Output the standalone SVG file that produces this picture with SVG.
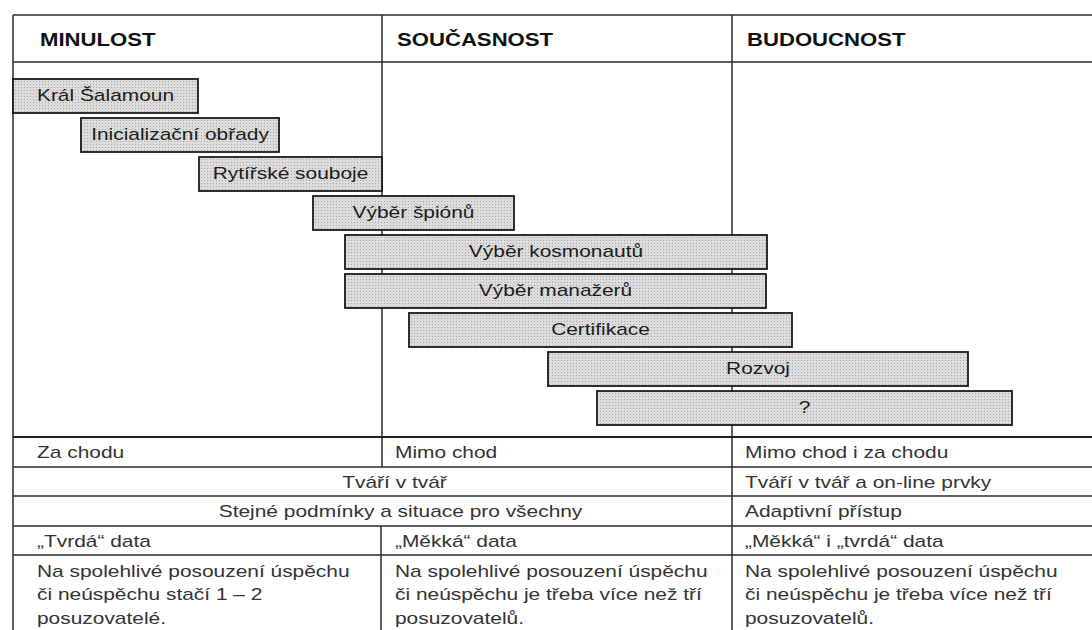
<svg xmlns="http://www.w3.org/2000/svg" width="1092" height="630" viewBox="0 0 1092 630">
  <defs>
    <pattern id="dots" width="3" height="3" patternUnits="userSpaceOnUse">
      <rect width="3" height="3" fill="#dcdcdc"/>
      <rect width="1" height="1" fill="#a8a8a8"/>
    </pattern>
    <style>
      .grid { stroke: #2a2a2a; stroke-width: 1.5; fill: none; }
      .thick { stroke: #1e1e1e; stroke-width: 2.2; fill: none; }
      .box { fill: url(#dots); stroke: #1a1a1a; stroke-width: 1.8; }
      .hdr { font-family: "Liberation Sans", Arial, sans-serif; font-weight: bold; font-size: 18px; fill: #111; }
      .bt { font-family: "Liberation Sans", Arial, sans-serif; font-size: 17px; fill: #1c1c1c; text-anchor: middle; }
      .ct { font-family: "Liberation Sans", Arial, sans-serif; font-size: 17px; fill: #333; }
      .cm { font-family: "Liberation Sans", Arial, sans-serif; font-size: 17px; fill: #333; text-anchor: middle; }
    </style>
  </defs>
  <rect width="1092" height="630" fill="#ffffff"/>

  <!-- table grid -->
  <g id="connectors">
    <line class="grid" x1="13" y1="15" x2="1092" y2="15"/>
    <line class="grid" x1="13" y1="62" x2="1092" y2="62"/>
    <line class="grid" x1="13" y1="15" x2="13" y2="630"/>
    <line class="grid" x1="382" y1="15" x2="382" y2="437"/>
    <line class="grid" x1="382" y1="437" x2="382" y2="467"/>
    <line class="grid" x1="381" y1="526" x2="381" y2="630"/>
    <line class="grid" x1="732" y1="15" x2="732" y2="630"/>
    <line class="thick" x1="13" y1="437" x2="1092" y2="437"/>
    <line class="grid" x1="13" y1="467" x2="1092" y2="467"/>
    <line class="grid" x1="13" y1="496" x2="1092" y2="496"/>
    <line class="grid" x1="13" y1="526" x2="1092" y2="526"/>
    <line class="grid" x1="13" y1="555" x2="1092" y2="555"/>
  </g>

  <!-- headers -->
  <g id="headers">
    <text class="hdr" transform="translate(40 46) scale(1.23 1)">MINULOST</text>
    <text class="hdr" transform="translate(397 46) scale(1.23 1)">SOUČASNOST</text>
    <text class="hdr" transform="translate(747 46) scale(1.23 1)">BUDOUCNOST</text>
  </g>

  <!-- timeline bars -->
  <g id="n1"><rect class="box" x="13" y="79" width="185" height="34"/><text class="bt" transform="translate(105.5 100.5) scale(1.23 1)">Král Šalamoun</text></g>
  <g id="n2"><rect class="box" x="81" y="118" width="198" height="34"/><text class="bt" transform="translate(180 139.5) scale(1.23 1)">Inicializační obřady</text></g>
  <g id="n3"><rect class="box" x="199" y="157" width="183" height="34"/><text class="bt" transform="translate(290.5 178.5) scale(1.23 1)">Rytířské souboje</text></g>
  <g id="n4"><rect class="box" x="313" y="196" width="201" height="34"/><text class="bt" transform="translate(413.5 217.5) scale(1.23 1)">Výběr špiónů</text></g>
  <g id="n5"><rect class="box" x="345" y="235" width="422" height="34"/><text class="bt" transform="translate(556 256.5) scale(1.23 1)">Výběr kosmonautů</text></g>
  <g id="n6"><rect class="box" x="345" y="274" width="421" height="34"/><text class="bt" transform="translate(555.5 295.5) scale(1.23 1)">Výběr manažerů</text></g>
  <g id="n7"><rect class="box" x="409" y="313" width="383" height="34"/><text class="bt" transform="translate(600.5 334.5) scale(1.23 1)">Certifikace</text></g>
  <g id="n8"><rect class="box" x="548" y="352" width="420" height="34"/><text class="bt" transform="translate(758 373.5) scale(1.23 1)">Rozvoj</text></g>
  <g id="n9"><rect class="box" x="597" y="391" width="415" height="34"/><text class="bt" transform="translate(804.5 412.5) scale(1.23 1)">?</text></g>

  <!-- lower table -->
  <g id="row1">
    <text class="ct" transform="translate(37 458) scale(1.23 1)">Za chodu</text>
    <text class="ct" transform="translate(395 458) scale(1.23 1)">Mimo chod</text>
    <text class="ct" transform="translate(745 458) scale(1.23 1)">Mimo chod i za chodu</text>
  </g>
  <g id="row2">
    <text class="cm" transform="translate(394.5 487.5) scale(1.23 1)">Tváří v tvář</text>
    <text class="ct" transform="translate(745 487.5) scale(1.23 1)">Tváří v tvář a on-line prvky</text>
  </g>
  <g id="row3">
    <text class="cm" transform="translate(400.5 517) scale(1.23 1)">Stejné podmínky a situace pro všechny</text>
    <text class="ct" transform="translate(745 517) scale(1.23 1)">Adaptivní přístup</text>
  </g>
  <g id="row4">
    <text class="ct" transform="translate(37 546.5) scale(1.23 1)">„Tvrdá“ data</text>
    <text class="ct" transform="translate(395 546.5) scale(1.23 1)">„Měkká“ data</text>
    <text class="ct" transform="translate(745 546.5) scale(1.23 1)">„Měkká“ i „tvrdá“ data</text>
  </g>
  <g id="row5">
    <text class="ct" transform="translate(37 577) scale(1.23 1)"><tspan x="0" y="0">Na spolehlivé posouzení úspěchu</tspan><tspan x="0" y="23.5">či neúspěchu stačí 1 – 2</tspan><tspan x="0" y="47">posuzovatelé.</tspan></text>
    <text class="ct" transform="translate(395 577) scale(1.23 1)"><tspan x="0" y="0">Na spolehlivé posouzení úspěchu</tspan><tspan x="0" y="23.5">či neúspěchu je třeba více než tří</tspan><tspan x="0" y="47">posuzovatelů.</tspan></text>
    <text class="ct" transform="translate(745 577) scale(1.23 1)"><tspan x="0" y="0">Na spolehlivé posouzení úspěchu</tspan><tspan x="0" y="23.5">či neúspěchu je třeba více než tří</tspan><tspan x="0" y="47">posuzovatelů.</tspan></text>
  </g>
</svg>
